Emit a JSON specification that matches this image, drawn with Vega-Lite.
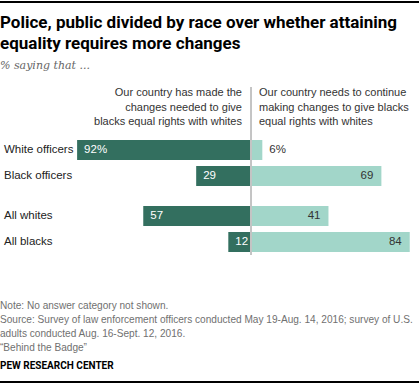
{
  "$schema": "https://vega.github.io/schema/vega-lite/v6.json",
  "padding": {"left": 0, "top": 1, "right": 0, "bottom": 0},
  "spacing": 15,
  "background": "white",
  "config": {
    "view": {"stroke": null},
    "text": {"font": "Liberation Sans", "fontSize": 11.5}
  },
  "datasets": {
    "bars": [
      {"group": "Officers", "race": "White", "label": "White officers", "side": "made", "value": 92, "shown": "92%"},
      {"group": "Officers", "race": "White", "label": "White officers", "side": "continue", "value": 6, "shown": "6%"},
      {"group": "Officers", "race": "Black", "label": "Black officers", "side": "made", "value": 29, "shown": "29"},
      {"group": "Officers", "race": "Black", "label": "Black officers", "side": "continue", "value": 69, "shown": "69"},
      {"group": "Public", "race": "White", "label": "All whites", "side": "made", "value": 57, "shown": "57"},
      {"group": "Public", "race": "White", "label": "All whites", "side": "continue", "value": 41, "shown": "41"},
      {"group": "Public", "race": "Black", "label": "All blacks", "side": "made", "value": 12, "shown": "12"},
      {"group": "Public", "race": "Black", "label": "All blacks", "side": "continue", "value": 84, "shown": "84"}
    ]
  },
  "vconcat": [
    {
      "width": 419,
      "height": 2,
      "view": {"fill": "#000000", "stroke": null},
      "data": {"values": [{"k": "top"}]},
      "mark": {"type": "rect", "color": "#000000"},
      "encoding": {
        "x": {"datum": 0, "type": "quantitative", "scale": {"domain": [0, 1]}, "axis": null},
        "x2": {"datum": 1},
        "y": {"datum": 0, "type": "quantitative", "scale": {"domain": [0, 1]}, "axis": null},
        "y2": {"datum": 1}
      },
      "title": {
        "text": ["Police, public divided by race over whether attaining", "equality requires more changes"],
        "subtitle": "% saying that ...",
        "orient": "bottom",
        "anchor": "start",
        "offset": 12,
        "font": "Roboto",
        "fontSize": 17,
        "fontWeight": "bold",
        "color": "#000000",
        "lineHeight": 21,
        "subtitleFont": "DejaVu Serif",
        "subtitleFontStyle": "italic",
        "subtitleFontSize": 11,
        "subtitleColor": "#666666",
        "subtitlePadding": 7
      }
    },
    {
      "spacing": 10,
      "vconcat": [
        {
          "width": 419,
          "height": 168,
          "data": {"name": "bars"},
          "title": {
            "text": ["Note: No answer category not shown.", "Source: Survey of law enforcement officers conducted May 19-Aug. 14, 2016; survey of U.S.", "adults conducted Aug. 16-Sept. 12, 2016.", "\u201cBehind the Badge\u201d"],
            "subtitle": "PEW RESEARCH CENTER",
            "orient": "bottom",
            "anchor": "start",
            "offset": 45,
            "font": "Liberation Sans",
            "fontSize": 10.1,
            "fontWeight": "normal",
            "color": "#707070",
            "lineHeight": 14,
            "subtitleFont": "Roboto",
            "subtitleFontSize": 10,
            "subtitleFontWeight": "bold",
            "subtitleColor": "#000000",
            "subtitlePadding": 8
          },
          "resolve": {"scale": {"x": "independent"}},
          "encoding": {
            "y": {"field": "group", "type": "nominal", "scale": {"domain": ["Officers", "Public"], "paddingInner": 0.212, "paddingOuter": 0.379, "align": 1}, "axis": null},
            "yOffset": {"field": "race", "type": "nominal", "scale": {"domain": ["White", "Black"], "paddingInner": 0.23, "paddingOuter": 0.115}}
          },
          "layer": [
            {
              "transform": [{"filter": "datum.side === 'made'"}],
              "mark": {"type": "bar", "color": "#336f5f"},
              "encoding": {"x": {"field": "value", "type": "quantitative", "scale": {"domain": [-88.9, 132.8], "reverse": true}, "axis": null}}
            },
            {
              "transform": [{"filter": "datum.side === 'continue'"}],
              "mark": {"type": "bar", "color": "#a2d6c9"},
              "encoding": {"x": {"field": "value", "type": "quantitative", "scale": {"domain": [-132.8, 88.9]}, "axis": null}}
            },
            {
              "mark": {"type": "rule", "color": "#c4c4c4", "strokeWidth": 1},
              "encoding": {"x": {"datum": 0, "type": "quantitative", "scale": {"domain": [-132.8, 88.9]}, "axis": null}, "y": null, "yOffset": null}
            },
            {
              "transform": [{"filter": "datum.side === 'made'"}],
              "mark": {"type": "text", "align": "left", "dx": 7, "color": "#ffffff", "baseline": "middle"},
              "encoding": {"x": {"field": "value", "type": "quantitative", "scale": {"domain": [-88.9, 132.8], "reverse": true}, "axis": null}, "text": {"field": "shown"}}
            },
            {
              "transform": [{"filter": "datum.side === 'continue' && datum.value >= 10"}],
              "mark": {"type": "text", "align": "right", "dx": -8, "color": "#333333", "baseline": "middle"},
              "encoding": {"x": {"field": "value", "type": "quantitative", "scale": {"domain": [-132.8, 88.9]}, "axis": null}, "text": {"field": "shown"}}
            },
            {
              "transform": [{"filter": "datum.side === 'continue' && datum.value < 10"}],
              "mark": {"type": "text", "align": "left", "dx": 7, "color": "#333333", "baseline": "middle"},
              "encoding": {"x": {"field": "value", "type": "quantitative", "scale": {"domain": [-132.8, 88.9]}, "axis": null}, "text": {"field": "shown"}}
            },
            {
              "transform": [{"filter": "datum.side === 'made'"}],
              "mark": {"type": "text", "align": "left", "color": "#222222", "baseline": "middle"},
              "encoding": {"x": {"datum": -130.7, "type": "quantitative", "scale": {"domain": [-132.8, 88.9]}, "axis": null}, "text": {"field": "label"}}
            },
            {
              "data": {"values": [{"head": "Our country has made the\nchanges needed to give\nblacks equal rights with whites"}]},
              "mark": {"type": "text", "align": "right", "baseline": "top", "dx": -9, "dy": -76, "lineBreak": "\n", "lineHeight": 14.5, "fontSize": 11, "color": "#333333"},
              "encoding": {"x": {"datum": 0, "type": "quantitative", "scale": {"domain": [-132.8, 88.9]}, "axis": null}, "y": {"datum": "Officers", "type": "nominal"}, "yOffset": null, "text": {"field": "head"}}
            },
            {
              "data": {"values": [{"head": "Our country needs to continue\nmaking changes to give blacks\nequal rights with whites"}]},
              "mark": {"type": "text", "align": "left", "baseline": "top", "dx": 8, "dy": -76, "lineBreak": "\n", "lineHeight": 14.5, "fontSize": 11, "color": "#333333"},
              "encoding": {"x": {"datum": 0, "type": "quantitative", "scale": {"domain": [-132.8, 88.9]}, "axis": null}, "y": {"datum": "Officers", "type": "nominal"}, "yOffset": null, "text": {"field": "head"}}
            }
          ]
        },
        {
          "width": 419,
          "height": 2,
          "view": {"fill": "#000000", "stroke": null},
          "data": {"values": [{"k": "bottom"}]},
          "mark": {"type": "rect", "color": "#000000"},
          "encoding": {
            "x": {"datum": 0, "type": "quantitative", "scale": {"domain": [0, 1]}, "axis": null},
            "x2": {"datum": 1},
            "y": {"datum": 0, "type": "quantitative", "scale": {"domain": [0, 1]}, "axis": null},
            "y2": {"datum": 1}
          }
        }
      ]
    }
  ]
}
